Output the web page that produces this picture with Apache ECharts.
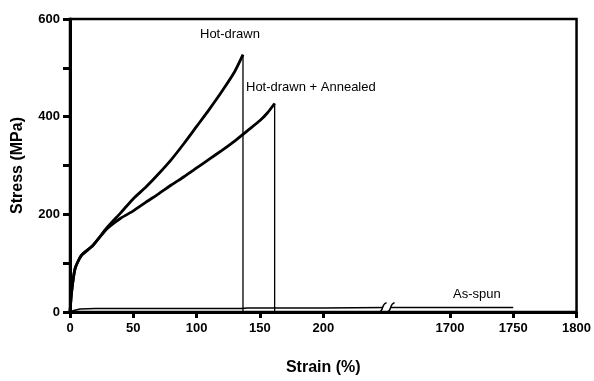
<!DOCTYPE html>
<html>
<head>
<meta charset="utf-8">
<script src="https://cdn.jsdelivr.net/npm/echarts@6/dist/echarts.min.js"></script>
<style>html,body{margin:0;padding:0;background:#fff}#c{width:594px;height:381px}</style>
</head>
<body>
<div id="c"></div>
<script>
// Broken x axis: real strain 0-250 maps directly, 1650-1800 maps to 250-400
const xTickValues = [0, 50, 100, 150, 200, 300, 350, 400];
const xTickLabels = ['0', '50', '100', '150', '200', '1700', '1750', '1800'];
const yTickLabels = ['0', '200', '400', '600'];

const hotDrawnStrain = [0, 1.3, 4, 9, 18, 29, 40, 50, 60, 70, 80, 90, 100, 110, 120, 130, 136.6];
const hotDrawnStress = [0, 42, 89, 116, 136, 172, 203, 232, 256, 283, 312, 345, 380, 415, 452, 492, 527];

const annealedStrain = [0, 1.3, 4, 9, 18, 29, 40, 50, 60, 70, 80, 90, 100, 110, 120, 130, 140, 150, 156, 161.6];
const annealedStress = [0, 42, 89, 116, 136, 170, 192, 207, 225, 242, 260, 277, 295, 313, 331, 350, 371, 392, 408, 427];

const asSpunStrain = [0, 3, 8, 20, 60, 135, 140, 200, 250, 1650, 1700, 1750];
const asSpunStress = [0, 3, 6, 7, 7, 7, 8, 8, 9, 9, 9, 9];

function mapX(v) { return v <= 250 ? v : v - 1400; }
function pairs(xs, ys) { return xs.map((x, i) => [mapX(x), ys[i]]); }
function dropLine(xs, ys) {
  const n = xs.length - 1;
  return [[mapX(xs[n]), ys[n]], [mapX(xs[n]), 0]];
}

const FONT = 'Liberation Sans';
const chart = echarts.init(document.getElementById('c'), null, { renderer: 'canvas' });

chart.setOption({
  animation: false,
  backgroundColor: '#fff',
  grid: { left: 70, right: 16, top: 19, bottom: 66, show: true, borderColor: '#000', borderWidth: 2.5, backgroundColor: 'transparent' },
  xAxis: {
    type: 'value', min: 0, max: 400, interval: 50,
    name: 'Strain (%)', nameLocation: 'middle', nameGap: 48,
    nameTextStyle: { fontFamily: FONT, fontSize: 16, fontWeight: 'bold', color: '#000' },
    axisLine: { show: true, lineStyle: { color: '#000', width: 3 } },
    axisTick: { show: true, length: 6, lineStyle: { color: '#000', width: 3 }, customValues: xTickValues },
    axisLabel: {
      color: '#000', fontFamily: FONT, fontSize: 13, margin: 10, fontWeight: 'bold',
      customValues: xTickValues,
      formatter: v => { const i = xTickValues.indexOf(v); return i >= 0 ? xTickLabels[i] : ''; }
    },
    splitLine: { show: false }
  },
  yAxis: {
    type: 'value', min: 0, max: 600, interval: 100,
    name: 'Stress (MPa)', nameLocation: 'middle', nameGap: 44,
    nameTextStyle: { fontFamily: FONT, fontSize: 16, fontWeight: 'bold', color: '#000' },
    axisLine: { show: true, lineStyle: { color: '#000', width: 3 } },
    axisTick: { show: true, length: 7, lineStyle: { color: '#000', width: 3 } },
    axisLabel: {
      color: '#000', fontFamily: FONT, fontSize: 13, margin: 10, fontWeight: 'bold',
      formatter: v => yTickLabels.indexOf(String(v)) >= 0 ? String(v) : ''
    },
    splitLine: { show: false }
  },
  series: [
    { name: 'Hot-drawn', type: 'line', data: pairs(hotDrawnStrain, hotDrawnStress), smooth: 0.2, showSymbol: false, lineStyle: { color: '#000', width: 2.8 } },
    { name: 'Hot-drawn drop', type: 'line', data: dropLine(hotDrawnStrain, hotDrawnStress), showSymbol: false, lineStyle: { color: '#000', width: 1.3 } },
    { name: 'Hot-drawn + Annealed', type: 'line', data: pairs(annealedStrain, annealedStress), smooth: 0.2, showSymbol: false, lineStyle: { color: '#000', width: 2.8 } },
    { name: 'Annealed drop', type: 'line', data: dropLine(annealedStrain, annealedStress), showSymbol: false, lineStyle: { color: '#000', width: 1.3 } },
    { name: 'As-spun', type: 'line', data: pairs(asSpunStrain, asSpunStress), showSymbol: false, lineStyle: { color: '#000', width: 1.5 } },
    {
      name: 'break', type: 'custom', data: [[250, 9]], silent: true, z: 5,
      renderItem: (params, api) => {
        const p = api.coord([api.value(0), api.value(1)]);
        const mk = dx => ({
          type: 'path',
          shape: { pathData: `M ${p[0] + dx - 4} ${p[1] + 5} Q ${p[0] + dx - 1} ${p[1] + 4} ${p[0] + dx} ${p[1]} Q ${p[0] + dx + 1} ${p[1] - 4} ${p[0] + dx + 4} ${p[1] - 5}` },
          style: { stroke: '#000', lineWidth: 1.5, fill: null }
        });
        return {
          type: 'group', children: [
            { type: 'rect', shape: { x: p[0] - 4, y: p[1] - 2, width: 8, height: 4 }, style: { fill: '#fff' } },
            mk(-4), mk(4)
          ]
        };
      }
    }
  ],
  graphic: [
    { type: 'text', left: 200, top: 28, style: { text: 'Hot-drawn', fontFamily: FONT, fontSize: 13, fill: '#000' } },
    { type: 'text', left: 246, top: 81, style: { text: 'Hot-drawn + Annealed', fontFamily: FONT, fontSize: 13, fill: '#000' } },
    { type: 'text', left: 453, top: 288, style: { text: 'As-spun', fontFamily: FONT, fontSize: 13, fill: '#000' } }
  ]
});
</script>
</body>
</html>
